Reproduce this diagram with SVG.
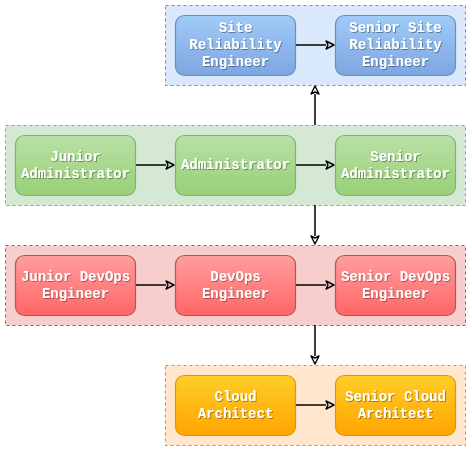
<svg xmlns="http://www.w3.org/2000/svg" width="472" height="451" viewBox="0 0 472 451">
<defs>
<linearGradient id="gBlue" x1="0" y1="0" x2="0" y2="1"><stop offset="0" stop-color="#9fcbf8"/><stop offset="1" stop-color="#7ea6e0"/></linearGradient>
<linearGradient id="gGreen" x1="0" y1="0" x2="0" y2="1"><stop offset="0" stop-color="#b9e0a5"/><stop offset="1" stop-color="#97d077"/></linearGradient>
<linearGradient id="gRed" x1="0" y1="0" x2="0" y2="1"><stop offset="0" stop-color="#ff9d9d"/><stop offset="1" stop-color="#ff6666"/></linearGradient>
<linearGradient id="gOrange" x1="0" y1="0" x2="0" y2="1"><stop offset="0" stop-color="#ffcd28"/><stop offset="1" stop-color="#ffa500"/></linearGradient>
<filter id="ts" x="-10%" y="-30%" width="120%" height="160%"><feDropShadow dx="1" dy="1" stdDeviation="0.6" flood-color="#000" flood-opacity="0.35"/></filter>
<marker id="arr" markerWidth="12" markerHeight="12" refX="1" refY="5" orient="auto" markerUnits="userSpaceOnUse"><path d="M1,1 L9,5 L1,9 L3,5 Z" fill="none" stroke="#000" stroke-width="1.4" stroke-linejoin="round"/></marker>
</defs>
<style>
.cont{stroke-width:1;stroke-dasharray:3 3}
.node{stroke-width:1.2}
.lbl{font-family:"Liberation Mono","Courier New",monospace;font-weight:bold;font-size:14px;fill:#fff;text-anchor:middle;filter:url(#ts)}
.edge{stroke:#000;stroke-width:1.5;fill:none;marker-end:url(#arr)}
</style>
<g id="containers">
<rect id="c-sre" class="cont" x="165.5" y="5.5" width="300" height="80" fill="#dae8fc" stroke="#6c8ebf"/>
<rect id="c-admin" class="cont" x="5.5" y="125.5" width="460" height="80" fill="#d5e8d4" stroke="#82b366"/>
<rect id="c-devops" class="cont" x="5.5" y="245.5" width="460" height="80" fill="#f8cecc" stroke="#b85450"/>
<rect id="c-cloud" class="cont" x="165.5" y="365.5" width="300" height="80" fill="#ffe6cc" stroke="#d79b00"/>
</g>
<g id="connectors">
<path class="edge" d="M295,45 L326,45"/>
<path class="edge" d="M135,165 L166,165"/>
<path class="edge" d="M295,165 L326,165"/>
<path class="edge" d="M135,285 L166,285"/>
<path class="edge" d="M295,285 L326,285"/>
<path class="edge" d="M315,125 L315,94"/>
<path class="edge" d="M315,205 L315,236"/>
<path class="edge" d="M315,325 L315,356"/>
<path class="edge" d="M295,405 L326,405"/>
</g>
<g id="n-sre"><rect class="node" x="175.5" y="15.5" width="120" height="60" rx="9" fill="url(#gBlue)" stroke="#6c8ebf"/><text class="lbl" x="235.5"><tspan x="235.5" y="32">Site</tspan><tspan x="235.5" y="49">Reliability</tspan><tspan x="235.5" y="66">Engineer</tspan></text></g>
<g id="n-ssre"><rect class="node" x="335.5" y="15.5" width="120" height="60" rx="9" fill="url(#gBlue)" stroke="#6c8ebf"/><text class="lbl" x="395.5"><tspan x="395.5" y="32">Senior Site</tspan><tspan x="395.5" y="49">Reliability</tspan><tspan x="395.5" y="66">Engineer</tspan></text></g>
<g id="n-jadmin"><rect class="node" x="15.5" y="135.5" width="120" height="60" rx="9" fill="url(#gGreen)" stroke="#82b366"/><text class="lbl"><tspan x="75.5" y="161">Junior</tspan><tspan x="75.5" y="178">Administrator</tspan></text></g>
<g id="n-admin"><rect class="node" x="175.5" y="135.5" width="120" height="60" rx="9" fill="url(#gGreen)" stroke="#82b366"/><text class="lbl" x="235.5" y="169">Administrator</text></g>
<g id="n-sadmin"><rect class="node" x="335.5" y="135.5" width="120" height="60" rx="9" fill="url(#gGreen)" stroke="#82b366"/><text class="lbl"><tspan x="395.5" y="161">Senior</tspan><tspan x="395.5" y="178">Administrator</tspan></text></g>
<g id="n-jdevops"><rect class="node" x="15.5" y="255.5" width="120" height="60" rx="9" fill="url(#gRed)" stroke="#b85450"/><text class="lbl"><tspan x="75.5" y="281">Junior DevOps</tspan><tspan x="75.5" y="298">Engineer</tspan></text></g>
<g id="n-devops"><rect class="node" x="175.5" y="255.5" width="120" height="60" rx="9" fill="url(#gRed)" stroke="#b85450"/><text class="lbl"><tspan x="235.5" y="281">DevOps</tspan><tspan x="235.5" y="298">Engineer</tspan></text></g>
<g id="n-sdevops"><rect class="node" x="335.5" y="255.5" width="120" height="60" rx="9" fill="url(#gRed)" stroke="#b85450"/><text class="lbl"><tspan x="395.5" y="281">Senior DevOps</tspan><tspan x="395.5" y="298">Engineer</tspan></text></g>
<g id="n-cloud"><rect class="node" x="175.5" y="375.5" width="120" height="60" rx="9" fill="url(#gOrange)" stroke="#d79b00"/><text class="lbl"><tspan x="235.5" y="401">Cloud</tspan><tspan x="235.5" y="418">Architect</tspan></text></g>
<g id="n-scloud"><rect class="node" x="335.5" y="375.5" width="120" height="60" rx="9" fill="url(#gOrange)" stroke="#d79b00"/><text class="lbl"><tspan x="395.5" y="401">Senior Cloud</tspan><tspan x="395.5" y="418">Architect</tspan></text></g>
</svg>
